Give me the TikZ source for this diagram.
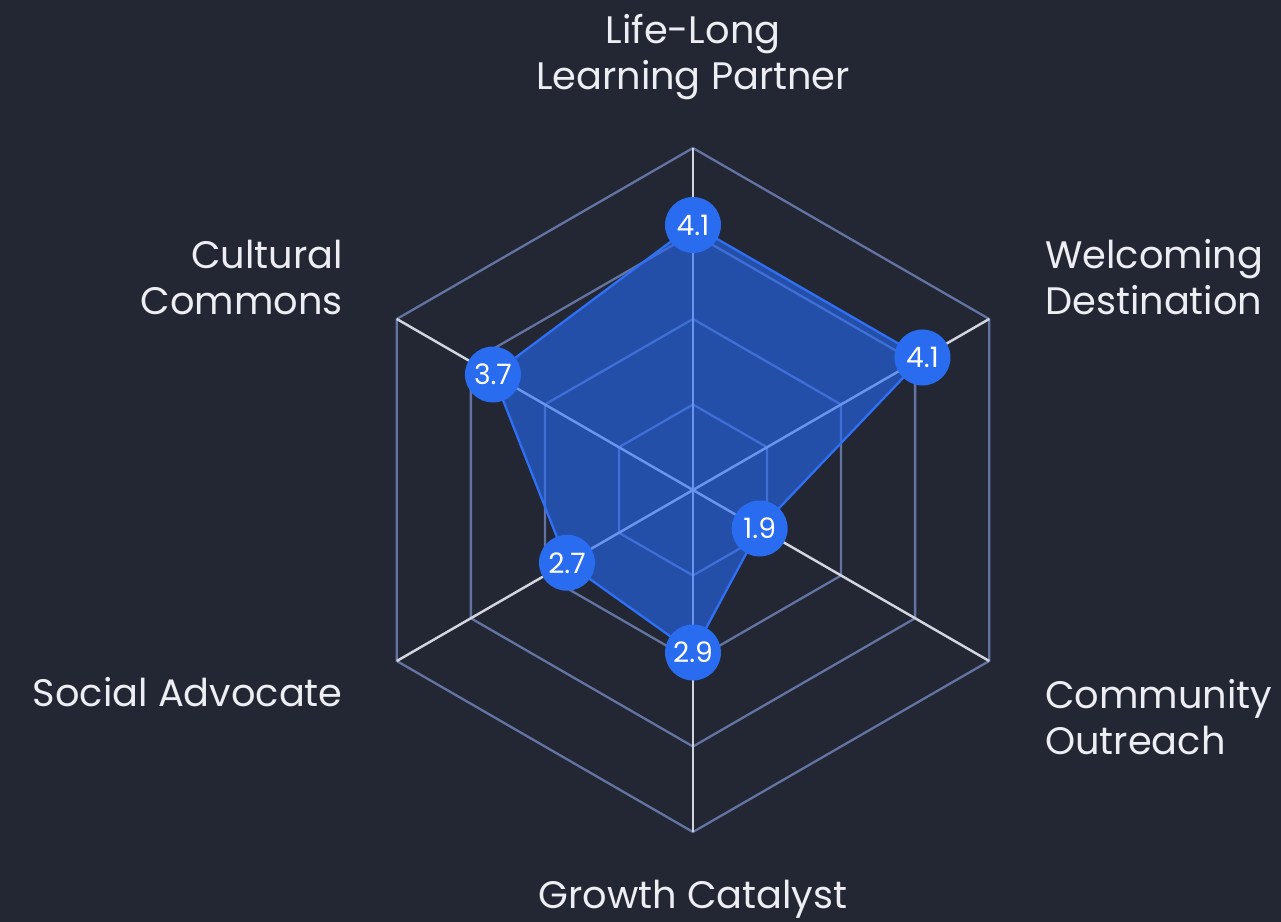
\documentclass[tikz,border=0pt]{standalone}
\usepackage{fontspec}
\setmainfont{Poppins}
\definecolor{bg}{RGB}{35,39,51}
\definecolor{ring}{RGB}{100,116,162}
\definecolor{spoke}{RGB}{210,213,222}
\definecolor{area}{RGB}{37,107,249}
\definecolor{edge}{RGB}{47,112,245}
\definecolor{dot}{RGB}{41,108,240}
\definecolor{labeltext}{RGB}{236,238,243}

\begin{document}
\begin{tikzpicture}
        \fill[bg] (-13.86,-8.64) rectangle (11.76,9.80);
        \useasboundingbox (-13.86,-8.64) rectangle (11.76,9.80);

        \draw[ring, line width=1.3pt] (90:1.71) -- (30:1.71) -- (-30:1.71) -- (-90:1.71) -- (-150:1.71) -- (150:1.71) -- cycle;
        \draw[ring, line width=1.3pt] (90:3.42) -- (30:3.42) -- (-30:3.42) -- (-90:3.42) -- (-150:3.42) -- (150:3.42) -- cycle;
        \draw[ring, line width=1.3pt] (90:5.13) -- (30:5.13) -- (-30:5.13) -- (-90:5.13) -- (-150:5.13) -- (150:5.13) -- cycle;
        \draw[ring, line width=1.3pt] (90:6.84) -- (30:6.84) -- (-30:6.84) -- (-90:6.84) -- (-150:6.84) -- (150:6.84) -- cycle;
        \draw[spoke, line width=1.4pt] (90:6.84) -- (-90:6.84);
        \draw[spoke, line width=1.4pt] (30:6.84) -- (-150:6.84);
        \draw[spoke, line width=1.4pt] (150:6.84) -- (-30:6.84);

        \coordinate (v1) at (90:5.30);
        \coordinate (v2) at (30:5.30);
        \coordinate (v3) at (-30:1.54);
        \coordinate (v4) at (-90:3.25);
        \coordinate (v5) at (-150:2.91);
        \coordinate (v6) at (150:4.62);
        \fill[area, opacity=0.6] (v1) -- (v2) -- (v3) -- (v4) -- (v5) -- (v6) -- cycle;
        \draw[edge, line width=1.3pt, line join=round] (v1) -- (v2) -- (v3) -- (v4) -- (v5) -- (v6) -- cycle;

        \begin{scope}[every node/.style={circle, fill=dot, text=white, minimum size=11.2mm, inner sep=0pt, font=\fontsize{16}{16}\selectfont}]
            \node (p1) at (v1) {4.1};
            \node (p2) at (v2) {4.1};
            \node (p3) at (v3) {1.9};
            \node (p4) at (v4) {2.9};
            \node (p5) at (v5) {2.7};
            \node (p6) at (v6) {3.7};
        \end{scope}

        \begin{scope}[every node/.style={text=labeltext, inner sep=0pt, font=\fontsize{21.8}{26.2}\selectfont}]
            \node[align=center] (learning) at (0,8.65) {Life-Long\\Learning Partner};
            \node[align=left, anchor=west] (welcoming) at (7.04,4.25) {Welcoming\\Destination};
            \node[align=left, anchor=west] (outreach) at (7.04,-4.54) {Community\\Outreach};
            \node (growth) at (0,-8.18) {Growth Catalyst};
            \node[anchor=east] (advocate) at (-7.0,-4.04) {Social Advocate};
            \node[align=right, anchor=east] (commons) at (-7.0,4.25) {Cultural\\Commons};
        \end{scope}
\end{tikzpicture}
\end{document}
